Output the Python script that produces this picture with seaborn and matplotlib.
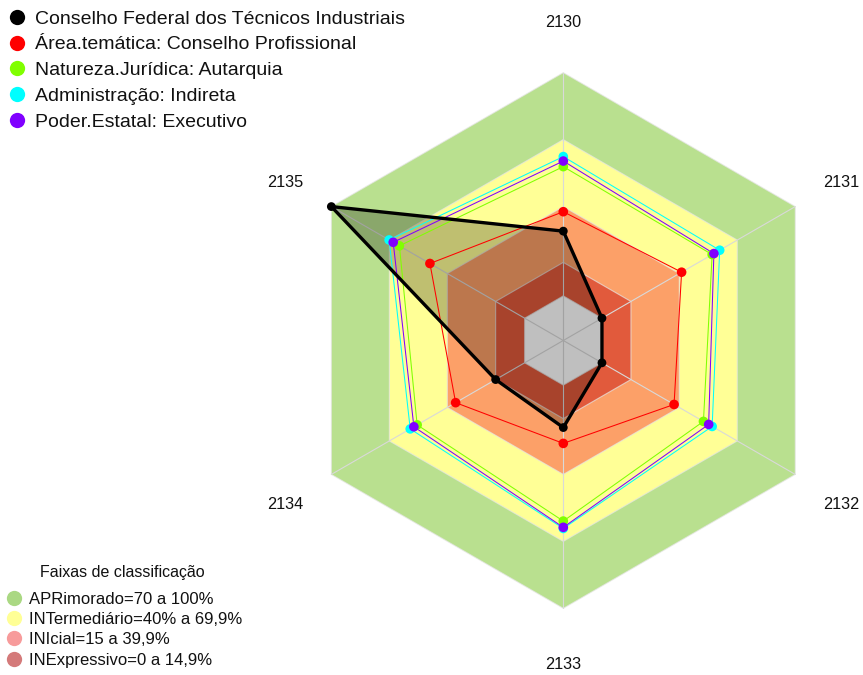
import numpy as np
import pandas as pd
import matplotlib
matplotlib.use("Agg")
import matplotlib.pyplot as plt
from matplotlib.lines import Line2D
import seaborn as sns

# ---------------- data ----------------
axis_labels = ["2130", "2131", "2132", "2133", "2134", "2135"]
series_names = [
    "Conselho Federal dos Técnicos Industriais",
    "Área.temática: Conselho Profissional",
    "Natureza.Jurídica: Autarquia",
    "Administração: Indireta",
    "Poder.Estatal: Executivo",
]
conselho = [29.0, 0.0, 0.0, 19.0, 15.0, 100.0]
area_tematica = [37.7, 41.2, 37.3, 26.1, 35.7, 49.0]
natureza_juridica = [57.9, 57.0, 52.5, 60.9, 55.6, 64.8]
administracao = [62.4, 60.9, 57.0, 64.2, 59.2, 70.1]
poder_estatal = [60.4, 57.9, 55.2, 63.7, 57.3, 68.0]
series_values = [conselho, area_tematica, natureza_juridica, administracao, poder_estatal]
series_colors = ["#000000", "#ff0000", "#80ff00", "#00ffff", "#8000ff"]

band_title = "Faixas de classificação"
band_labels = [
    "APRimorado=70 a 100%",
    "INTermediário=40% a 69,9%",
    "INIcial=15 a 39,9%",
    "INExpressivo=0 a 14,9%",
]
band_upper = [100, 70, 40, 15]
band_colors = ["#b9e08f", "#ffff96", "#fca068", "#e15a3c"]
legend_band_colors = ["#aad883", "#ffff96", "#f79b9b", "#d47a7a"]
r_min = -20  # radial axis starts below zero (white core)

# ---------------- helpers ----------------
n = len(axis_labels)
theta = np.deg2rad(90 - 60 * np.arange(n))


def to_xy(vals, close=False):
    r = np.asarray(vals, dtype=float) - r_min
    x = r * np.cos(theta)
    y = r * np.sin(theta)
    if close:
        x = np.append(x, x[0])
        y = np.append(y, y[0])
    return x, y


# ---------------- figure ----------------
sns.set_theme(style="white")
plt.rcParams["font.family"] = ["Liberation Sans", "DejaVu Sans"]

W, H = 863, 675
fig = plt.figure(figsize=(W / 100, H / 100), dpi=100)
ax = fig.add_axes([0, 0, 1, 1])
scale = 2.232  # px per unit
cx, cy = 563.3, H - 340.5
ax.set_xlim(-cx / scale, (W - cx) / scale)
ax.set_ylim(-cy / scale, (H - cy) / scale)
ax.set_axis_off()

# bands
for up, col in zip(band_upper, band_colors):
    bx, by = to_xy([up] * n, close=True)
    ax.fill(bx, by, color=col, lw=0, zorder=1)
cx0, cy0 = to_xy([0] * n, close=True)
ax.fill(cx0, cy0, color="white", lw=0, zorder=1)

# grid hexagons & spokes
for up in band_upper + [0]:
    gx, gy = to_xy([up] * n, close=True)
    ax.plot(gx, gy, color="#e6e6e6", lw=0.8, alpha=0.7, zorder=2)
ox, oy = to_xy([100] * n)
for x1, y1 in zip(ox, oy):
    ax.plot([0, x1], [0, y1], color="#d9d9d9", lw=0.8, zorder=2)

# black series fill
fx, fy = to_xy(conselho, close=True)
ax.fill(fx, fy, color="black", alpha=0.25, lw=0, zorder=3)

# series lines and markers
order = [1, 2, 3, 4, 0]
for i in order:
    vals = series_values[i]
    lx, ly = to_xy(vals, close=True)
    lw = 2.4 if i == 0 else 0.75
    sns.lineplot(x=lx, y=ly, sort=False, estimator=None, color=series_colors[i],
                 lw=lw, ax=ax, zorder=4 if i else 6)
    px, py = to_xy(vals)
    sns.scatterplot(x=px, y=py, color=series_colors[i], s=40 if i == 0 else 48,
                    edgecolor="none", linewidth=0, ax=ax, zorder=5 if i else 7)

# axis labels
lx, ly = to_xy([144 + r_min] * n)
for x, y, t in zip(lx, ly, axis_labels):
    ax.text(x, y - 1.5 / scale, t, ha="center", va="center_baseline",
            fontsize=11.7, color="#111111")

# legend 1 (series)
h1 = [Line2D([], [], ls="", marker="o", markersize=11, markeredgewidth=0, color=c)
      for c in series_colors]
leg1 = fig.legend(h1, series_names, loc="upper left", bbox_to_anchor=(0.008, 1 - 10 / H),
                  frameon=False, fontsize=14, handlelength=1.0, handletextpad=0.45,
                  labelspacing=0.42, borderpad=0, borderaxespad=0)
for t in leg1.get_texts():
    t.set_color("#111111")

# legend 2 (bands)
fig.text(122 / W, 1 - 572 / H, band_title, ha="center", va="center",
         fontsize=11.5, color="#111111")
h2 = [Line2D([], [], ls="", marker="o", markersize=11, markeredgewidth=0, color=c)
      for c in legend_band_colors]
leg2 = fig.legend(h2, band_labels, loc="upper left",
                  bbox_to_anchor=(6.5 / W, 1 - 591.5 / H), frameon=False, fontsize=12,
                  handlelength=0.95, handletextpad=0.4,
                  labelspacing=0.32, borderpad=0, borderaxespad=0)
for t in leg2.get_texts():
    t.set_color("#111111")

fig.savefig("out.png", dpi=100)
